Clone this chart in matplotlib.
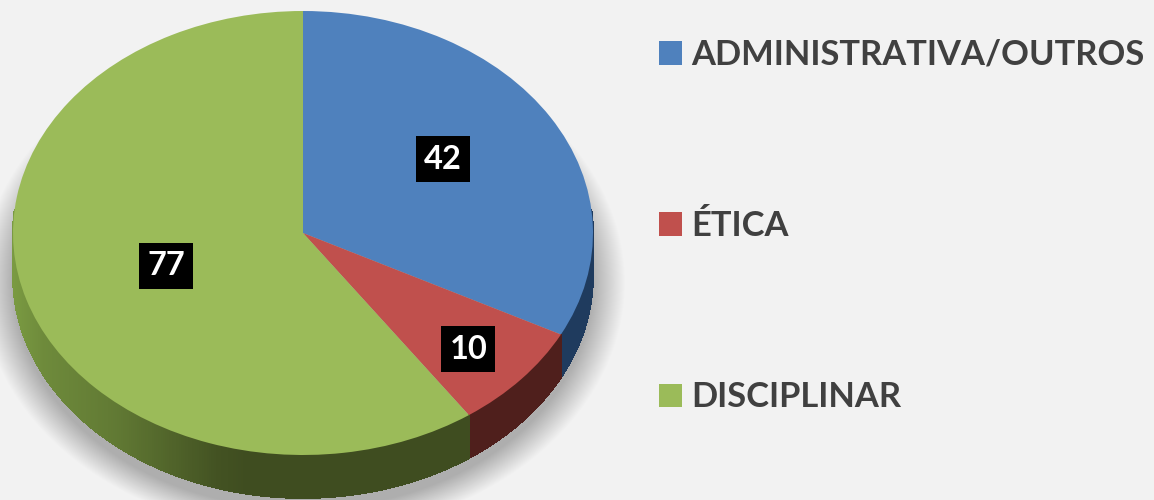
import numpy as np
import matplotlib
matplotlib.use("Agg")
import matplotlib.pyplot as plt
from matplotlib.patches import Ellipse, Polygon
from matplotlib.colors import to_rgb

categories = ["ADMINISTRATIVA/OUTROS", "ÉTICA", "DISCIPLINAR"]
values = [42, 10, 77]
colors = ["#4f81bd", "#c0504d", "#9bbb59"]
side_dark = ["#1f3b5e", "#4f1f1c", "#3f4d20"]

W, H = 1154, 500
CX, CY, RX, RY, DEPTH = 303, 233, 290, 222, 43

plt.rcParams["font.family"] = ["Lato", "DejaVu Sans"]
fig = plt.figure(figsize=(W / 100, H / 100), dpi=100, facecolor="#f2f2f2")
ax = fig.add_axes([0, 0, 1, 1], facecolor="#f2f2f2")

d = DEPTH / RY

# soft shadow
for s in np.linspace(1.11, 1.0, 34):
    ax.add_patch(Ellipse((0, -d - 0.03), 2 * s, 2 * s * 1.02, fc="black", ec="none",
                         alpha=0.0075, zorder=1))

# side wall, walked clockwise from the top of the pie
edges = np.concatenate([[0], np.cumsum(values)]) / sum(values) * 2 * np.pi
ramp_x = [-1.0, -0.9, -0.65, -0.3, -0.2, 1.0]
ramp_t = [0.0, 0.2, 0.42, 0.93, 1.0, 1.0]
for i, (a0, a1) in enumerate(zip(edges[:-1], edges[1:])):
    angles = np.arange(a0, a1, np.radians(0.5))
    angles = np.append(angles, a1)
    for t0, t1 in zip(angles[:-1], angles[1:]):
        if np.cos(t0) > 0.1 and np.cos(t1) > 0.1:
            continue
        xs = np.sin([t0, t1])
        ys = np.cos([t0, t1])
        if i == 2:
            k = np.interp(xs.mean(), ramp_x, ramp_t)
            c = (1 - k) * np.array(to_rgb("#7a9a42")) + k * np.array(to_rgb(side_dark[2]))
        else:
            c = to_rgb(side_dark[i])
        ax.add_patch(Polygon([(xs[0], ys[0]), (xs[1], ys[1]), (xs[1], ys[1] - d), (xs[0], ys[0] - d)],
                             closed=True, fc=c, ec=c, lw=0.6, antialiased=False, zorder=2))

wedges, _ = ax.pie(values, colors=colors, startangle=90, counterclock=False, radius=1,
                   wedgeprops={"linewidth": 0, "zorder": 3})
for w in wedges:
    w.set_zorder(3)

ax.set_aspect("auto")
ax.set_xlim(-CX / RX, (W - CX) / RX)
ax.set_ylim((CY - H) / RY, CY / RY)
ax.axis("off")

# data labels
label_pos = [(0.483, 0.333), (0.570, -0.523), (-0.472, -0.148)]
for v, (x, y) in zip(values, label_pos):
    ax.text(x, y, str(v), color="white", fontsize=23.5, fontweight="bold", ha="center", va="center",
            zorder=5, bbox=dict(boxstyle="square,pad=0.25", fc="black", ec="none"))

leg = ax.legend(wedges, categories, loc="upper left", bbox_to_anchor=(659 / W, 1 - 39 / H),
                bbox_transform=fig.transFigure, frameon=False, borderpad=0,
                borderaxespad=0, handlelength=0.66, handleheight=0.66, handletextpad=0.27,
                labelspacing=4.04, labelcolor="#404040", prop={"weight": "bold", "size": 24.8})

fig.savefig("out.png", dpi=100, facecolor=fig.get_facecolor())
